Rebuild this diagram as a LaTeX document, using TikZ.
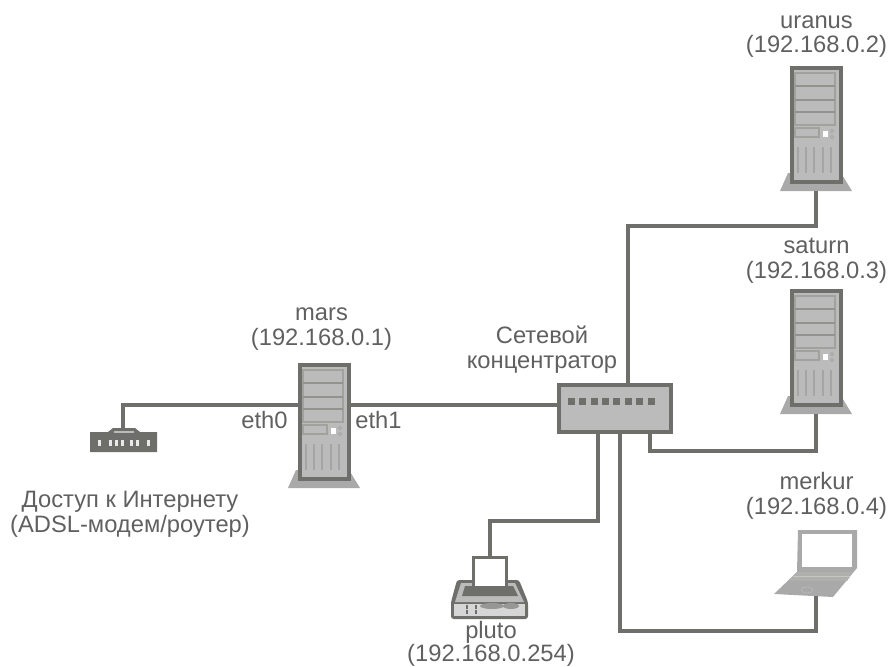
\documentclass[tikz,border=0pt]{standalone}
\usepackage{fontspec}
\setmainfont{Liberation Sans}
\definecolor{ln}{HTML}{6E6E6A}
\definecolor{fl}{HTML}{BBBBBB}
\definecolor{bs}{HTML}{A9A9A9}
\definecolor{tx}{HTML}{606060}
\tikzset{
  x=0.75pt,y=-0.75pt,
  wire/.style={draw=ln,line width=3pt,line join=miter},
  lbl/.style={text=tx,font=\fontsize{17.8}{18.4}\selectfont,align=center,inner sep=0pt,anchor=base},
}
\newcommand{\serverpic}[3]{%
  \begin{scope}[shift={(#2,#3)}]
    \fill[bs] (-9,126) -- (63,126) -- (52,108) -- (-1,108) -- cycle;
    \coordinate (#1-foot) at (27,126);
    \node[draw=ln,line width=3pt,fill=fl,minimum width=36.75pt,minimum height=85.5pt,inner sep=0pt,anchor=north west] (#1) at (1,1) {};
    \draw[ln!65,line width=1.2pt] (6,8) rectangle (46,60);
    \foreach \yy in {21,35,47} \draw[ln!75,line width=1.5pt] (6,\yy) -- (46,\yy);
    \draw[ln!65,line width=1pt] (6,63) rectangle (30,72);
    \fill[white] (34,66) rectangle (39,72);
    \draw[ln!60,line width=.6pt] (43,66) circle (1.8) (43,72) circle (1.8);
    \foreach \xx in {9,17,25,34,42} \draw[ln!62,line width=1pt] (\xx,82) -- (\xx,108);
  \end{scope}}
\begin{document}
\begin{tikzpicture}
\useasboundingbox (0,0) rectangle (889,667);
% servers
\serverpic{uranus}{789}{65}
\serverpic{saturn}{789}{288}
\serverpic{mars}{297}{362}
% hub
\node[draw=ln,line width=3pt,fill=fl,minimum width=84pt,minimum height=35pt,inner sep=0pt,anchor=north west] (hub) at (557,383) {};
\foreach \xx in {571,582,594,605,616,628,639,651} \fill[ln] (\xx-3.5,397.5) rectangle (\xx+3.5,404.5);
% modem
\path[fill=ln] (90,432) -- (108,432) -- (113,428) -- (135,428) -- (140,432) -- (157,432) -- (157,452) -- (90,452) -- cycle;
\node[inner sep=0pt,minimum size=0pt] (modem) at (123,428) {};
\fill[fl] (114,431) rectangle (134,433);
\foreach \xx in {99,110,116,122,131,137,148} \fill[white!85!ln] (\xx-1.5,440) rectangle (\xx+1.5,446);
% printer
\fill[ln,rounded corners=2pt] (457,580) -- (519,580) -- (528,602) -- (528,619) -- (451,619) -- (451,602) -- cycle;
\fill[fl] (461,583) -- (515,583) -- (524,602) -- (455,602) -- cycle;
\fill[fl!60!white] (454,604) rectangle (525,616);
\node[draw=ln,line width=2pt,fill=white,minimum width=25pt,minimum height=23pt,inner sep=0pt,anchor=north] (pluto) at (490,556) {};
\fill[ln] (465,586) -- (513,586) -- (518,596) -- (462,596) -- cycle;
\foreach \xx in {467,476} \draw[ln,line width=1pt,dash pattern=on 3pt off 1pt] (\xx,605) -- (\xx,616);
\fill[bs!70!ln] (492,606) ellipse (12 and 3) (511,606) ellipse (8 and 3);
% laptop
\fill[bs] (798,530) -- (857,530) -- (857,568) -- (833,597) -- (774,594) -- (797,572) -- cycle;
\fill[white] (802,534) rectangle (852,567);
\fill[ln!55] (797,572) -- (853,572) -- (847,581) -- (788,581) -- cycle;
\draw[ln!40,line width=.5pt] (793,576) -- (850,576);
\node[inner sep=0pt,minimum size=0pt] (merkur) at (816,596) {};
\draw[ln!50,line width=.6pt] (807,590) ellipse (6 and 3);
% wires
\draw[wire] (modem) -- (123,405) -- (mars.west |- 0,405);
\draw[wire] (mars.east |- 0,405) -- (hub.west |- 0,405);
\draw[wire] (628,0 |- hub.north) -- (628,226) -- (816,226) -- (uranus-foot);
\draw[wire] (650,0 |- hub.south) -- (650,451) -- (816,451) -- (saturn-foot);
\draw[wire] (598,0 |- hub.south) -- (598,521) -- (pluto.north |- 0,521) -- (pluto.north);
\draw[wire] (620,0 |- hub.south) -- (620,631) -- (816,631) -- (merkur);
% labels
\node[lbl] (l1) at (816.5,53) {uranus\\(192.168.0.2)};
\node[lbl] (l2) at (816.5,278) {saturn\\(192.168.0.3)};
\node[lbl] (l3) at (321.5,345) {mars\\(192.168.0.1)};
\node[lbl] (l4) at (816.5,514) {merkur\\(192.168.0.4)};
\node[lbl] (l5) at (491,661.5) {pluto\\[-1.5pt](192.168.0.254)};
\node[lbl] (l6) at (542,368) {Сетевой\\концентратор};
\node[lbl] (l7) at (130,532) {Доступ к Интернету\\(ADSL-модем/роутер)};
\node[lbl] (l8) at (264.5,428) {eth0};
\node[lbl] (l9) at (378.5,428) {eth1};
\end{tikzpicture}
\end{document}
